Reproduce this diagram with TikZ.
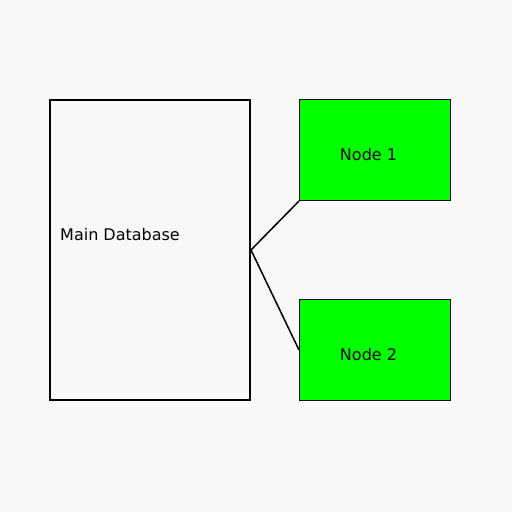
\documentclass[tikz,border=0pt]{standalone}
\usepackage{fontspec}
\setmainfont{DejaVu Sans}
\definecolor{bg}{RGB}{248,248,248}
\definecolor{nodegreen}{RGB}{0,255,0}
\begin{document}
\begin{tikzpicture}[x=1pt,y=-1pt,
  dbbox/.style={draw=black,line width=2pt,minimum width=200pt,minimum height=300pt,inner sep=0pt},
  greenbox/.style={draw=black,line width=1pt,fill=nodegreen,minimum width=151pt,minimum height=101pt,inner sep=0pt},
  lbl/.style={inner sep=0pt,font=\fontsize{16pt}{19pt}\selectfont},
  conn/.style={draw=black,line width=1.5pt}]
\fill[bg] (0,0) rectangle (512,512);
\useasboundingbox (0,0) rectangle (512,512);
\node[dbbox] (main) at (150,250) {};
\node[lbl,anchor=west] (mainlabel) at (60,234.5) {Main Database};
\node[greenbox] (n1) at (375,150) {};
\node[lbl] (n1label) at (368.5,154.5) {Node 1};
\node[greenbox] (n2) at (375,350) {};
\node[lbl] (n2label) at (368.5,354.5) {Node 2};
\draw[conn] (main.east) -- (n1.south west);
\draw[conn] (main.east) -- (n2.west);
\end{tikzpicture}
\end{document}
